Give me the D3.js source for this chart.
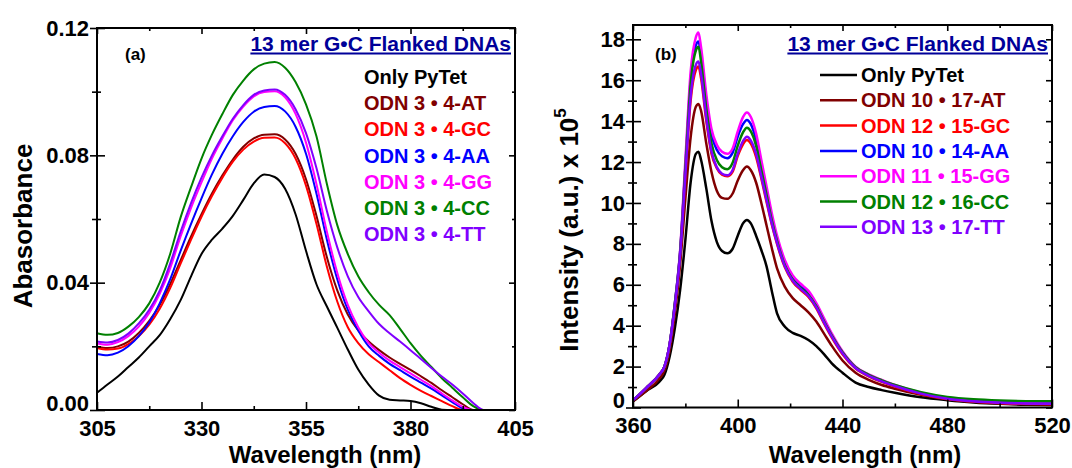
<!DOCTYPE html>
<html>
<head>
<meta charset="utf-8">
<script src="https://cdn.jsdelivr.net/npm/d3@7"></script>
<style>
  html, body { margin: 0; padding: 0; background: #fff; }
  svg { display: block; font-family: "Liberation Sans", Arial, Helvetica, sans-serif; font-weight: bold; }
</style>
</head>
<body>
<svg id="chart" width="1072" height="468"></svg>
<script>
// ---------- (a) UV absorbance spectra ----------
const absWavelength = [305, 307.5, 310, 312.5, 315, 317.5, 320, 322.5, 325, 327.5,
  330, 332.5, 335, 337.5, 340, 342.5, 345, 347.5, 350, 352.5,
  355, 357.5, 360, 362.5, 365, 367.5, 370, 372.5, 375, 377.5,
  380, 382.5, 385, 387.5, 390, 392.5, 395, 397.5, 400, 402.5, 405];

const absOnlyPyTet = [0.0054, 0.0080, 0.0105, 0.0135, 0.0165, 0.0200, 0.0235, 0.0285, 0.0345, 0.0420,
  0.0490, 0.0535, 0.0570, 0.0610, 0.0660, 0.0712, 0.0740, 0.0732, 0.0695, 0.0615,
  0.0500, 0.0395, 0.0325, 0.0258, 0.0190, 0.0127, 0.0080, 0.0045, 0.0032, 0.0030,
  0.0028, 0.0021, 0.0010, 0.0001, 0, 0, 0, 0, 0, 0, 0];
const absAT = [0.0199, 0.0195, 0.0200, 0.0215, 0.0242, 0.0280, 0.0330, 0.0395, 0.0470, 0.0545,
  0.0615, 0.0680, 0.0737, 0.0787, 0.0827, 0.0853, 0.0865, 0.0866, 0.0850, 0.0805,
  0.0725, 0.0610, 0.0480, 0.0375, 0.0300, 0.0250, 0.0215, 0.0188, 0.0165, 0.0145,
  0.0126, 0.0106, 0.0085, 0.0062, 0.0040, 0.0018, 0, 0, 0, 0, 0];
const absGC = [0.0195, 0.0190, 0.0193, 0.0207, 0.0232, 0.0268, 0.0318, 0.0383, 0.0460, 0.0535,
  0.0607, 0.0672, 0.0730, 0.0780, 0.0818, 0.0843, 0.0855, 0.0856, 0.0838, 0.0790,
  0.0705, 0.0585, 0.0450, 0.0340, 0.0260, 0.0210, 0.0175, 0.0150, 0.0125, 0.0100,
  0.0079, 0.0060, 0.0044, 0.0028, 0.0012, 0, 0, 0, 0, 0, 0];
const absAA = [0.0176, 0.0172, 0.0180, 0.0200, 0.0232, 0.0275, 0.0335, 0.0410, 0.0500, 0.0585,
  0.0665, 0.0740, 0.0805, 0.0860, 0.0905, 0.0937, 0.0952, 0.0955, 0.0938, 0.0890,
  0.0805, 0.0680, 0.0535, 0.0410, 0.0315, 0.0250, 0.0200, 0.0170, 0.0145, 0.0125,
  0.0105, 0.0086, 0.0067, 0.0046, 0.0025, 0.0005, 0, 0, 0, 0, 0];
const absGG = [0.0209, 0.0205, 0.0213, 0.0232, 0.0262, 0.0305, 0.0365, 0.0445, 0.0545, 0.0635,
  0.0715, 0.0790, 0.0853, 0.0910, 0.0953, 0.0985, 0.0999, 0.1001, 0.0982, 0.0930,
  0.0840, 0.0710, 0.0560, 0.0430, 0.0330, 0.0260, 0.0210, 0.0180, 0.0155, 0.0135,
  0.0115, 0.0095, 0.0075, 0.0052, 0.0030, 0.0010, 0, 0, 0, 0, 0];
const absCC = [0.0241, 0.0236, 0.0242, 0.0262, 0.0292, 0.0335, 0.0400, 0.0490, 0.0605, 0.0700,
  0.0790, 0.0865, 0.0930, 0.0990, 0.1035, 0.1070, 0.1088, 0.1093, 0.1075, 0.1030,
  0.0960, 0.0860, 0.0710, 0.0580, 0.0490, 0.0420, 0.0370, 0.0330, 0.0298, 0.0255,
  0.0210, 0.0170, 0.0135, 0.0100, 0.0070, 0.0040, 0.0012, 0, 0, 0, 0];
const absTT = [0.0215, 0.0212, 0.0220, 0.0240, 0.0272, 0.0315, 0.0375, 0.0460, 0.0560, 0.0650,
  0.0730, 0.0800, 0.0860, 0.0915, 0.0958, 0.0990, 0.1004, 0.1007, 0.0990, 0.0945,
  0.0870, 0.0760, 0.0625, 0.0510, 0.0420, 0.0355, 0.0310, 0.0270, 0.0241, 0.0215,
  0.0188, 0.0160, 0.0132, 0.0105, 0.0080, 0.0052, 0.0022, 0, 0, 0, 0];

const absLabels = ["Only PyTet", "ODN 3 \u2022 4-AT", "ODN 3 \u2022 4-GC", "ODN 3 \u2022 4-AA",
  "ODN 3 \u2022 4-GG", "ODN 3 \u2022 4-CC", "ODN 3 \u2022 4-TT"];
const absXTicks = [305, 330, 355, 380, 405];
const absYTicks = [0, 0.04, 0.08, 0.12];
const absYTickLabels = ["0.00", "0.04", "0.08", "0.12"];

// ---------- (b) fluorescence emission spectra ----------
const flWavelength = [360, 365, 370, 372, 374, 376, 378, 380, 382, 384,
  385, 386, 388, 390, 392, 394, 396, 398, 400, 402,
  403.5, 405, 407, 409, 411, 413, 415, 418, 421, 424,
  427, 430, 433, 436, 440, 445, 450, 455, 460, 470,
  480, 490, 500, 510, 520];

const flOnlyPyTet = [0.3, 0.8, 1.25, 1.6, 2.5, 3.9, 5.75, 8.2, 11.0, 12.4,
  12.5, 12.1, 10.7, 9.1, 8.1, 7.65, 7.54, 7.75, 8.4, 9.0,
  9.17, 9.0, 8.4, 7.7, 6.9, 5.7, 4.6, 3.95, 3.65, 3.5,
  3.3, 3.0, 2.6, 2.15, 1.7, 1.22, 1.0, 0.85, 0.72, 0.5,
  0.36, 0.25, 0.18, 0.14, 0.12];
const flAT = [0.3, 0.8, 1.4, 1.8, 2.8, 4.6, 7.0, 10.2, 13.2, 14.7,
  14.84, 14.5, 12.9, 11.5, 10.6, 10.25, 10.2, 10.45, 11.1, 11.6,
  11.78, 11.6, 11.0, 10.0, 8.9, 7.8, 6.8, 5.9, 5.35, 5.0,
  4.65, 4.2, 3.6, 3.0, 2.3, 1.7, 1.35, 1.1, 0.92, 0.62,
  0.4, 0.28, 0.2, 0.16, 0.13];
const flGC = [0.35, 0.95, 1.6, 2.0, 3.1, 5.0, 7.4, 11.3, 15.0, 16.5,
  16.67, 16.1, 14.0, 12.4, 11.7, 11.38, 11.3, 11.52, 12.3, 12.87,
  13.08, 12.9, 12.25, 11.2, 10.05, 8.95, 8.0, 6.85, 6.15, 5.75,
  5.4, 4.85, 4.1, 3.4, 2.6, 1.9, 1.52, 1.25, 1.02, 0.66,
  0.42, 0.29, 0.22, 0.19, 0.17];
const flAA = [0.35, 0.95, 1.6, 2.0, 3.1, 5.1, 7.6, 11.8, 16.0, 17.7,
  17.89, 17.2, 15.0, 13.35, 12.6, 12.28, 12.19, 12.45, 13.25, 13.85,
  14.06, 13.85, 13.1, 11.85, 10.6, 9.3, 8.25, 7.05, 6.35, 5.95,
  5.6, 5.0, 4.25, 3.5, 2.7, 1.95, 1.58, 1.3, 1.07, 0.7,
  0.46, 0.33, 0.26, 0.23, 0.21];
const flGG = [0.35, 0.95, 1.6, 2.0, 3.1, 5.1, 7.7, 12.1, 16.4, 18.1,
  18.33, 17.6, 15.3, 13.6, 12.85, 12.5, 12.4, 12.65, 13.5, 14.2,
  14.42, 14.2, 13.4, 12.1, 10.8, 9.5, 8.4, 7.2, 6.45, 6.05,
  5.7, 5.1, 4.35, 3.6, 2.75, 2.0, 1.62, 1.35, 1.1, 0.72,
  0.47, 0.33, 0.25, 0.21, 0.18];
const flCC = [0.35, 0.95, 1.6, 2.0, 3.1, 5.1, 7.6, 11.7, 15.8, 17.45,
  17.64, 16.9, 14.6, 12.9, 12.1, 11.75, 11.65, 11.95, 12.8, 13.45,
  13.68, 13.5, 12.8, 11.6, 10.4, 9.15, 8.15, 6.95, 6.25, 5.85,
  5.5, 4.95, 4.2, 3.5, 2.7, 1.97, 1.6, 1.33, 1.1, 0.75,
  0.52, 0.4, 0.34, 0.31, 0.3];
const flTT = [0.35, 0.95, 1.6, 2.0, 3.1, 5.0, 7.5, 11.4, 15.2, 16.75,
  16.91, 16.3, 14.15, 12.5, 11.75, 11.43, 11.35, 11.6, 12.4, 13.02,
  13.24, 13.05, 12.4, 11.3, 10.15, 9.0, 8.05, 6.9, 6.2, 5.8,
  5.45, 4.9, 4.15, 3.45, 2.65, 1.93, 1.55, 1.28, 1.05, 0.68,
  0.43, 0.3, 0.23, 0.2, 0.18];

const flLabels = ["Only PyTet", "ODN 10 \u2022 17-AT", "ODN 12 \u2022 15-GC", "ODN 10 \u2022 14-AA",
  "ODN 11 \u2022 15-GG", "ODN 12 \u2022 16-CC", "ODN 13 \u2022 17-TT"];
const flXTicks = [360, 400, 440, 480, 520];
const flYTicks = [0, 2, 4, 6, 8, 10, 12, 14, 16, 18];

const seriesColors = ["#000000", "#800000", "#ff0000", "#0000ff", "#ff00ff", "#008000", "#8000ff"];
const titleText = "13 mer G\u2022C Flanked DNAs";
const titleColor = "#000099";

const svg = d3.select("#chart");

function drawPanel(p) {
  const x = d3.scaleLinear().domain(p.xDomain).range([p.left, p.right]);
  const y = d3.scaleLinear().domain(p.yDomain).range([p.bottom, p.top]);
  const g = svg.append("g");

  // spectra
  const line = d3.line()
    .x((d, i) => x(p.wavelength[i]))
    .y(d => y(d))
    .curve(d3.curveMonotoneX);
  g.append("g").selectAll("path")
    .data(p.series)
    .join("path")
    .attr("d", d => line(d))
    .attr("fill", "none")
    .attr("stroke", (d, i) => seriesColors[i])
    .attr("stroke-width", p.lineWidth)
    .attr("stroke-linejoin", "round");

  // ticks on all four sides
  const tickStyle = sel => {
    sel.select(".domain").remove();
    sel.selectAll("line").attr("stroke", "#000").attr("stroke-width", 1.6);
    sel.selectAll("text").attr("fill", "#000").attr("font-size", 22)
      .attr("font-family", "Liberation Sans, Arial, sans-serif").attr("font-weight", "bold");
  };
  const bottomAxis = d3.axisBottom(x).tickValues(p.xTicks).tickSizeInner(-8).tickSizeOuter(0).tickPadding(10)
    .tickFormat(d3.format("d"));
  g.append("g").attr("transform", `translate(0,${p.bottom})`).call(bottomAxis).call(tickStyle);
  g.append("g").attr("transform", `translate(0,${p.bottom})`)
    .call(d3.axisBottom(x).tickValues(p.xMinor).tickSizeInner(-4).tickSizeOuter(0).tickFormat(""))
    .call(tickStyle);
  g.append("g").attr("transform", `translate(0,${p.top})`)
    .call(d3.axisTop(x).tickValues(p.xTicks).tickSizeInner(-6).tickSizeOuter(0).tickFormat(""))
    .call(tickStyle);
  g.append("g").attr("transform", `translate(0,${p.top})`)
    .call(d3.axisTop(x).tickValues(p.xMinor).tickSizeInner(-3).tickSizeOuter(0).tickFormat(""))
    .call(tickStyle);

  const leftAxis = d3.axisLeft(y).tickValues(p.yTicks).tickSizeInner(7).tickSizeOuter(0).tickPadding(1)
    .tickFormat(p.yFormat);
  const leftG = g.append("g").attr("transform", `translate(${p.left},0)`).call(leftAxis).call(tickStyle);
  // the label at the origin sits a little higher so it clears the x labels
  leftG.selectAll(".tick text").filter(d => d === 0).attr("dy", "0.02em");
  g.append("g").attr("transform", `translate(${p.left},0)`)
    .call(d3.axisLeft(y).tickValues(p.yTicks).tickSizeInner(-8).tickSizeOuter(0).tickFormat(""))
    .call(tickStyle);
  g.append("g").attr("transform", `translate(${p.left},0)`)
    .call(d3.axisLeft(y).tickValues(p.yMinor).tickSizeInner(5).tickSizeOuter(0).tickFormat(""))
    .call(tickStyle);
  g.append("g").attr("transform", `translate(${p.left},0)`)
    .call(d3.axisLeft(y).tickValues(p.yMinor).tickSizeInner(-4).tickSizeOuter(0).tickFormat(""))
    .call(tickStyle);
  g.append("g").attr("transform", `translate(${p.right},0)`)
    .call(d3.axisRight(y).tickValues(p.yTicks).tickSizeInner(-6).tickSizeOuter(0).tickFormat(""))
    .call(tickStyle);
  g.append("g").attr("transform", `translate(${p.right},0)`)
    .call(d3.axisRight(y).tickValues(p.yMinor).tickSizeInner(-3).tickSizeOuter(0).tickFormat(""))
    .call(tickStyle);

  // frame
  g.append("rect")
    .attr("x", p.left).attr("y", p.top)
    .attr("width", p.right - p.left).attr("height", p.bottom - p.top)
    .attr("fill", "none").attr("stroke", "#000").attr("stroke-width", 2);

  // panel tag
  g.append("text").attr("x", p.tagX).attr("y", 60)
    .attr("font-size", 17).text(p.tag);

  // underlined title
  const title = g.append("text")
    .attr("x", p.titleRight).attr("y", 51)
    .attr("text-anchor", "end")
    .attr("font-size", 21)
    .attr("fill", titleColor)
    .text(titleText);
  const tw = title.node().getComputedTextLength();
  g.append("line")
    .attr("x1", p.titleRight - tw).attr("x2", p.titleRight)
    .attr("y1", 53.5).attr("y2", 53.5)
    .attr("stroke", titleColor).attr("stroke-width", 2);

  // legend
  const leg = g.append("g");
  p.labels.forEach((lab, i) => {
    const cy = p.legendY + i * p.legendStep;
    if (p.legendLines) {
      leg.append("line")
        .attr("x1", p.legendLineX).attr("x2", p.legendLineX + 37)
        .attr("y1", cy).attr("y2", cy)
        .attr("stroke", seriesColors[i]).attr("stroke-width", 2.5);
    }
    leg.append("text")
      .attr("x", p.legendTextX).attr("y", cy + 7)
      .attr("font-size", 20)
      .attr("fill", seriesColors[i])
      .text(lab);
  });

  // axis titles
  g.append("text")
    .attr("x", p.xTitleX).attr("y", 463)
    .attr("text-anchor", "middle").attr("font-size", 24)
    .text("Wavelength (nm)");
  const yt = g.append("text")
    .attr("transform", `translate(${p.yTitleX},${p.yTitleY}) rotate(-90)`)
    .attr("text-anchor", "middle").attr("font-size", 26);
  yt.append("tspan").text(p.yTitle);
  if (p.yTitleSup) {
    yt.append("tspan").attr("dy", -12).attr("font-size", 17).text(p.yTitleSup);
  }
}

drawPanel({
  left: 97, right: 515, top: 28, bottom: 410,
  xDomain: [305, 405], yDomain: [0, 0.12],
  wavelength: absWavelength,
  series: [absOnlyPyTet, absAT, absGC, absAA, absGG, absCC, absTT],
  lineWidth: 2,
  xTicks: absXTicks, xMinor: [317.5, 342.5, 367.5, 392.5],
  yTicks: absYTicks, yMinor: [0.02, 0.06, 0.10],
  yFormat: (d, i) => absYTickLabels[i],
  tag: "(a)", tagX: 125,
  titleRight: 511,
  labels: absLabels, legendLines: false,
  legendTextX: 364, legendY: 77, legendStep: 26.2,
  xTitleX: 325,
  yTitle: "Abasorbance", yTitleX: 32, yTitleY: 226
});

drawPanel({
  left: 633, right: 1052, top: 25, bottom: 407.5,
  xDomain: [360, 520], yDomain: [0, 18.7],
  wavelength: flWavelength,
  series: [flOnlyPyTet, flAT, flGC, flAA, flGG, flCC, flTT],
  lineWidth: 2.5,
  xTicks: flXTicks, xMinor: [380, 420, 460, 500],
  yTicks: flYTicks, yMinor: [1, 3, 5, 7, 9, 11, 13, 15, 17],
  yFormat: d3.format("d"),
  tag: "(b)", tagX: 655,
  titleRight: 1048,
  labels: flLabels, legendLines: true, legendLineX: 820,
  legendTextX: 861, legendY: 75, legendStep: 25.3,
  xTitleX: 865,
  yTitle: "Intensity (a.u.) x 10", yTitleSup: "5", yTitleX: 578, yTitleY: 230
});
</script>
</body>
</html>
